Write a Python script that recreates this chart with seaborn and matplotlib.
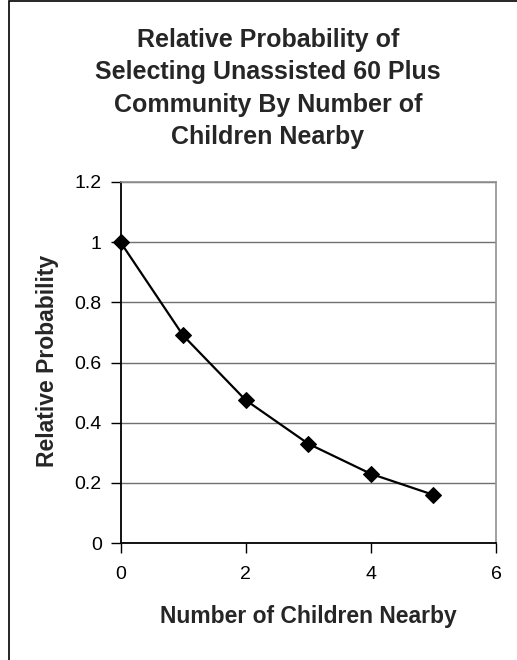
import matplotlib
matplotlib.use("Agg")
import matplotlib.pyplot as plt
from matplotlib.patches import Rectangle
import seaborn as sns
import pandas as pd

# Data
children = [0, 1, 2, 3, 4, 5]
rel_prob = [1.0, 0.69, 0.475, 0.33, 0.23, 0.16]
y_ticks = [0, 0.2, 0.4, 0.6, 0.8, 1, 1.2]
y_tick_labels = ["0", "0.2", "0.4", "0.6", "0.8", "1", "1.2"]
x_ticks = [0, 2, 4, 6]
x_tick_labels = ["0", "2", "4", "6"]
title_lines = ["Relative Probability of",
               "Selecting Unassisted 60 Plus",
               "Community By Number of",
               "Children Nearby"]

df = pd.DataFrame({"Children": children, "Probability": rel_prob})

sns.set_style("white")
plt.rcParams["font.family"] = ["Liberation Sans", "DejaVu Sans"]

W, H = 517, 660
fig = plt.figure(figsize=(W / 100, H / 100), dpi=100)
fig.patch.set_facecolor("white")

# outer chart-area frame (only left and top edges fall inside the image)
fig.add_artist(Rectangle((8.5 / W, -0.1), 1.2, 1.1 - 1.5 / H,
                         transform=fig.transFigure, fill=False,
                         edgecolor="black", linewidth=1.2))

ax = fig.add_axes([120.5 / W, (H - 543) / H, (496 - 120.5) / W, (543 - 182) / H])

sns.lineplot(data=df, x="Children", y="Probability", ax=ax, color="black",
             linewidth=1.6, marker="D", markersize=8.5, markeredgecolor="black",
             markerfacecolor="black", zorder=5, clip_on=False)

ax.set_xlim(0, 6)
ax.set_ylim(0, 1.2)
ax.set_yticks(y_ticks)
ax.set_yticklabels(y_tick_labels)
ax.set_xticks(x_ticks)
ax.set_xticklabels(x_tick_labels)

ax.yaxis.grid(True, color="#707070", linewidth=1.0)
ax.xaxis.grid(False)
ax.set_axisbelow(True)

for side in ["top", "right"]:
    ax.spines[side].set_visible(True)
    ax.spines[side].set_color("#909090")
    ax.spines[side].set_linewidth(1.2)
for side in ["left", "bottom"]:
    ax.spines[side].set_visible(True)
    ax.spines[side].set_color("black")
    ax.spines[side].set_linewidth(1.3)

ax.tick_params(axis="both", direction="out", length=7, width=1.0, color="black",
               labelsize=14, labelcolor="black", bottom=True, left=True)
ax.tick_params(axis="y", pad=6.5)
ax.tick_params(axis="x", pad=19)
for lbl in ax.get_xticklabels():
    lbl.set_va("baseline")

ax.set_xlabel("Number of Children Nearby", fontsize=16.5, fontweight="bold")
ax.xaxis.set_label_coords(0.5, (543 - 623) / (543 - 182))
ax.xaxis.label.set_va("baseline")

ax.set_ylabel("Relative Probability", fontsize=16.5, fontweight="bold")
ax.yaxis.set_label_coords((48 - 120.5) / (496 - 120.5), 0.505)
ax.yaxis.label.set_va("center")
ax.yaxis.label.set_ha("center")

# chart title, one line per baseline
for i, line in enumerate(title_lines):
    fig.text(268 / W, 1 - (47 + 32.4 * i) / H, line, ha="center",
             va="baseline", fontsize=18, fontweight="bold")

fig.savefig("out.png", dpi=100, facecolor="white")
